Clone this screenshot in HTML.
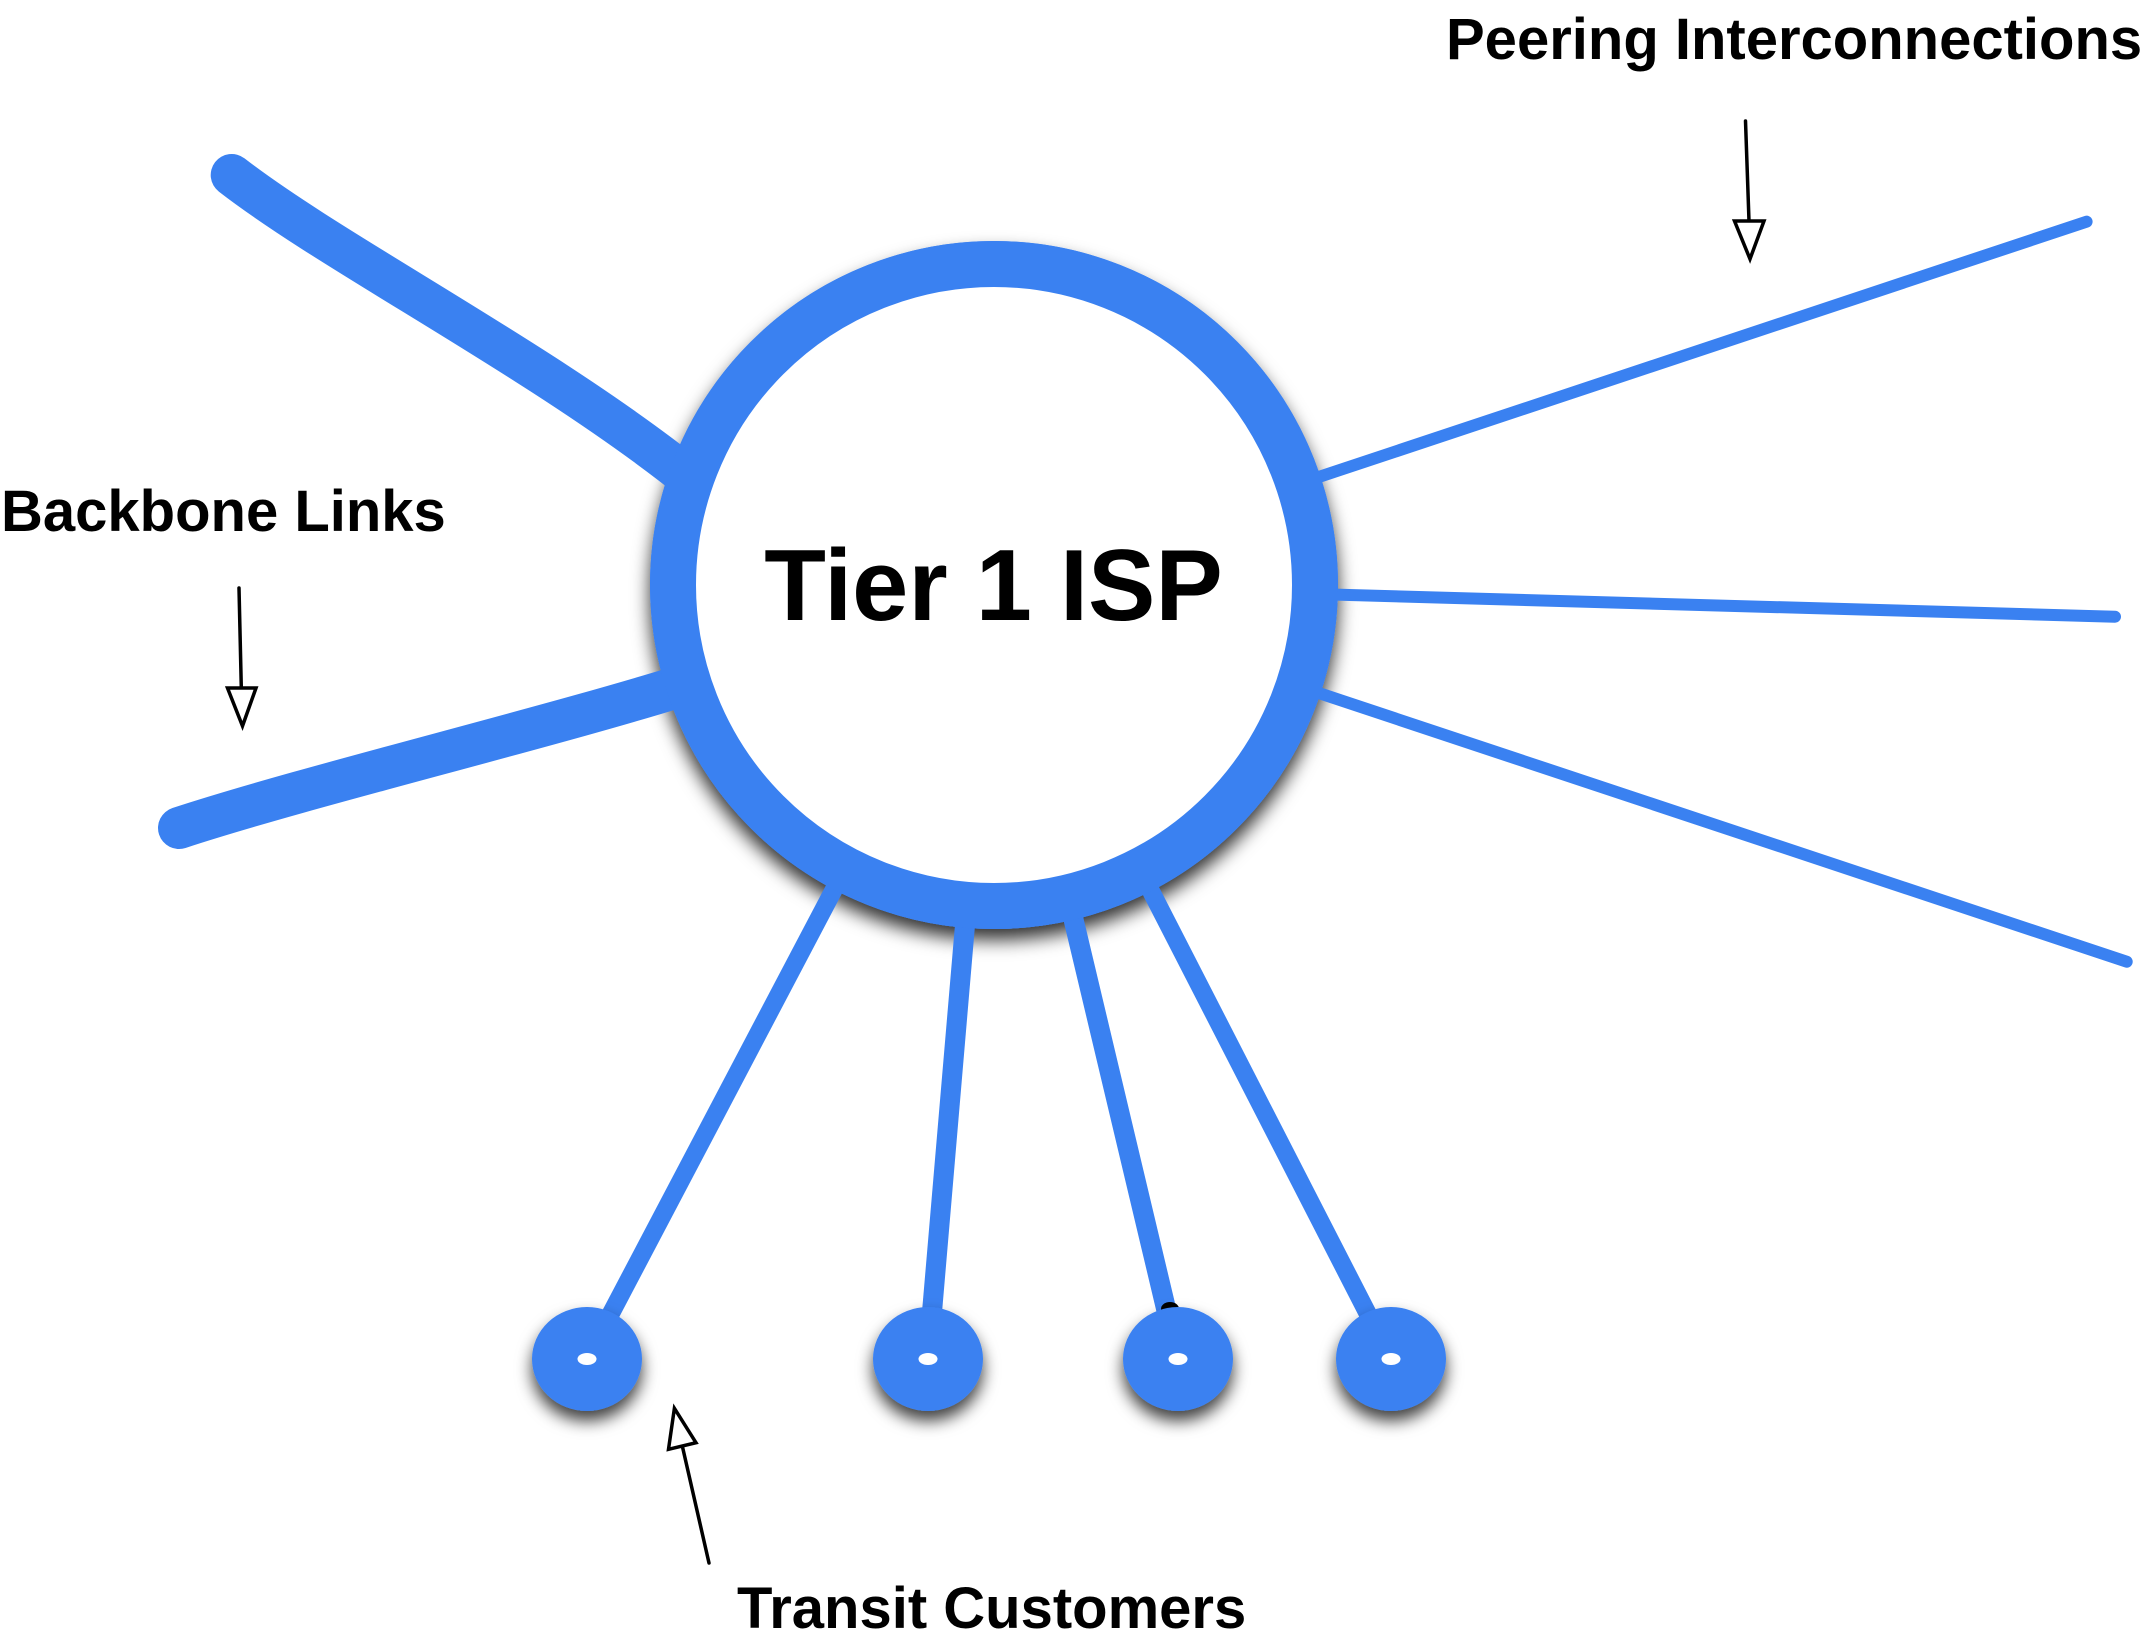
<!DOCTYPE html>
<html>
<head>
<meta charset="utf-8">
<style>
  html, body { margin: 0; padding: 0; background: #ffffff; }
  svg { display: block; }
  text { font-family: "Liberation Sans", Arial, Helvetica, sans-serif; font-weight: bold; fill: #000; }
</style>
</head>
<body>
<svg width="2150" height="1641" viewBox="0 0 2150 1641" xmlns="http://www.w3.org/2000/svg">
  <defs>
    <filter id="sh" x="-25%" y="-25%" width="150%" height="160%">
      <feDropShadow dx="0" dy="11" stdDeviation="9" flood-color="#000" flood-opacity="0.8"/>
    </filter>
    <filter id="shs" x="-50%" y="-50%" width="200%" height="220%">
      <feDropShadow dx="0" dy="10" stdDeviation="8" flood-color="#000" flood-opacity="0.75"/>
    </filter>
  </defs>

  <!-- big circle shadow layer -->
  <circle cx="994" cy="585" r="321" fill="#fff" stroke="#3a81f1" stroke-width="46" filter="url(#sh)"/>

  <!-- backbone links -->
  <path d="M231.7,175 C335,255 545,362 692,480" fill="none" stroke="#3a81f1" stroke-width="42" stroke-linecap="round"/>
  <path d="M179,828 C310,785 560,725 700,680" fill="none" stroke="#3a81f1" stroke-width="42" stroke-linecap="round"/>

  <!-- peering lines -->
  <g stroke="#3a81f1" stroke-width="12" stroke-linecap="round" fill="none">
    <line x1="994" y1="585" x2="2086.6" y2="221.7"/>
    <line x1="994" y1="585" x2="2115" y2="616.7"/>
    <line x1="994" y1="585" x2="2126.7" y2="961.7"/>
  </g>

  <!-- transit lines -->
  <g stroke="#3a81f1" fill="none">
    <line x1="994" y1="585" x2="587" y2="1359" stroke-width="18"/>
    <line x1="994" y1="585" x2="928" y2="1359" stroke-width="20"/>
    <line x1="994" y1="585" x2="1178" y2="1359" stroke-width="20"/>
    <line x1="994" y1="585" x2="1391" y2="1359" stroke-width="18"/>
  </g>
  <ellipse cx="1170" cy="1309" rx="9" ry="7" fill="#000"/>

  <!-- big circle -->
  <circle cx="994" cy="585" r="321" fill="#fff" stroke="#3a81f1" stroke-width="46"/>
  <text x="993.5" y="620" font-size="101" text-anchor="middle">Tier 1 ISP</text>

  <!-- small customer circles -->
  <g fill="#3a81f1" filter="url(#shs)">
    <ellipse cx="587" cy="1359" rx="55" ry="52"/>
    <ellipse cx="928" cy="1359" rx="55" ry="52"/>
    <ellipse cx="1178" cy="1359" rx="55" ry="52"/>
    <ellipse cx="1391" cy="1359" rx="55" ry="52"/>
  </g>
  <g fill="#fff">
    <ellipse cx="587" cy="1359" rx="9.5" ry="6"/>
    <ellipse cx="928" cy="1359" rx="9.5" ry="6"/>
    <ellipse cx="1178" cy="1359" rx="9.5" ry="6"/>
    <ellipse cx="1391" cy="1359" rx="9.5" ry="6"/>
  </g>

  <!-- arrows -->
  <g stroke="#000" stroke-width="3.5" stroke-linecap="round" fill="none">
    <line x1="239" y1="588" x2="241.3" y2="688"/>
    <line x1="1745.5" y1="121" x2="1749" y2="221"/>
    <line x1="709" y1="1563" x2="682.3" y2="1446"/>
  </g>
  <g stroke="#000" stroke-width="3.5" fill="#fff" stroke-linejoin="miter">
    <polygon points="227.5,688 256,688 242.5,726"/>
    <polygon points="1734.5,221 1764,221 1750,259"/>
    <polygon points="668.5,1449.3 696,1442.7 674.4,1408.3"/>
  </g>

  <!-- labels -->
  <text x="1446" y="59" font-size="58">Peering Interconnections</text>
  <text x="1" y="531" font-size="58">Backbone Links</text>
  <text x="737" y="1628" font-size="58">Transit Customers</text>
</svg>
</body>
</html>
